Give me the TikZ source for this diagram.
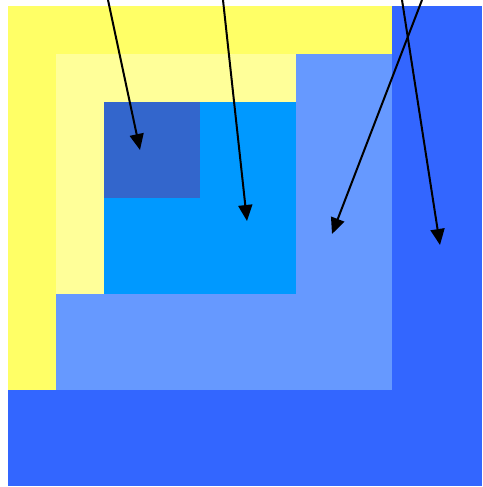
\documentclass[tikz,border=0pt]{standalone}
\usepackage{xcolor}
\usepackage{tikz}
\usetikzlibrary{arrows.meta}

\definecolor{outerblue}{HTML}{3366FF}
\definecolor{outeryellow}{HTML}{FFFF66}
\definecolor{midblue}{HTML}{6699FF}
\definecolor{paleyellow}{HTML}{FFFF99}
\definecolor{skyblue}{HTML}{0099FF}
\definecolor{innerblue}{HTML}{3366CC}

\begin{document}
\begin{tikzpicture}[
  x=1pt, y=-1pt,
  pointer/.style={-{Triangle[length=16pt, width=14pt]}, line width=2pt, black},
]
\useasboundingbox (0,0) rectangle (482,487);
% nested squares
\fill[outerblue]   (8,6)   rectangle (482,486);
\fill[outeryellow] (8,6)   rectangle (392,390);
\fill[midblue]     (56,54) rectangle (392,390);
\fill[paleyellow]  (56,54) rectangle (296,294);
\fill[skyblue]     (104,102) rectangle (296,294);
\fill[innerblue]   (104,102) rectangle (200,198);
% pointers
\coordinate (s1) at (108,0);
\coordinate (t1) at (140,150);
\coordinate (s2) at (223,0);
\coordinate (t2) at (247,221);
\coordinate (s3) at (422,0);
\coordinate (t3) at (332,234);
\coordinate (s4) at (402,0);
\coordinate (t4) at (440,245);
\draw[pointer] (s1) -- (t1);
\draw[pointer] (s2) -- (t2);
\draw[pointer] (s3) -- (t3);
\draw[pointer] (s4) -- (t4);
\end{tikzpicture}
\end{document}
